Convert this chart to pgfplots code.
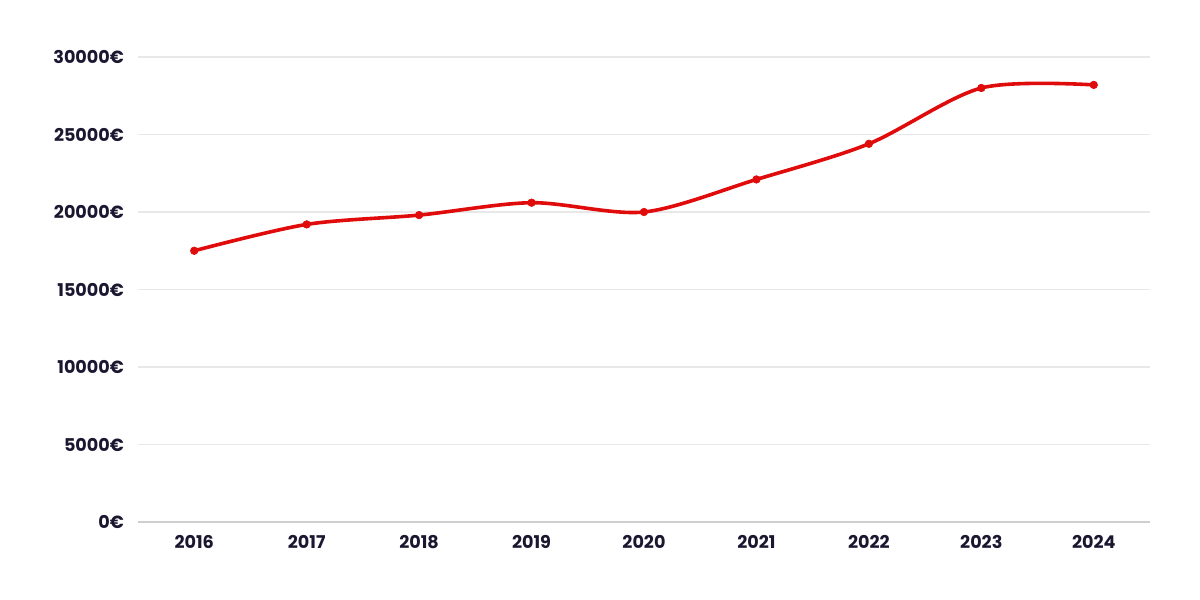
\documentclass[border=0pt]{standalone}
\usepackage{fontspec}
\setmainfont{Poppins}
\usepackage{pgfplots}
\pgfplotsset{compat=1.18}
\definecolor{labcol}{HTML}{1B1730}
\definecolor{gridcol}{HTML}{E8E8E8}
\definecolor{axcol}{HTML}{CFCFCF}
\definecolor{linecol}{HTML}{E00B0B}
\begin{document}
\begin{tikzpicture}[x=1pt,y=1pt]
\path[use as bounding box] (0,0) rectangle (600,300);
\begin{axis}[
  at={(69pt,39pt)}, anchor=south west,
  scale only axis, width=506pt, height=232.5pt,
  xmin=-0.5, xmax=8.5, ymin=0, ymax=30000,
  scaled y ticks=false,
  xtick={0,...,8},
  xticklabels={2016,2017,2018,2019,2020,2021,2022,2023,2024},
  ytick={0,5000,...,30000},
  yticklabels={0€,5000€,10000€,15000€,20000€,25000€,30000€},
  axis x line*=bottom, axis y line*=left,
  x axis line style={axcol, line width=1pt, -},
  y axis line style={draw=none},
  ymajorgrids, grid style={gridcol, line width=0.6pt},
  major tick length=0pt,
  tick label style={font=\fontsize{8.8}{10}\selectfont\bfseries, text=labcol},
  xticklabel style={yshift=-3pt},
  yticklabel style={xshift=-3.5pt},
  clip=false,
]
\addplot[linecol, line width=1.8pt, smooth, mark=*, mark size=1.9pt, mark options={fill=linecol, draw=linecol, line width=0.3pt}]
coordinates {(0,17500) (1,19200) (2,19800) (3,20600) (4,20000) (5,22100) (6,24400) (7,28000) (8,28200)};
\end{axis}
\end{tikzpicture}
\end{document}
